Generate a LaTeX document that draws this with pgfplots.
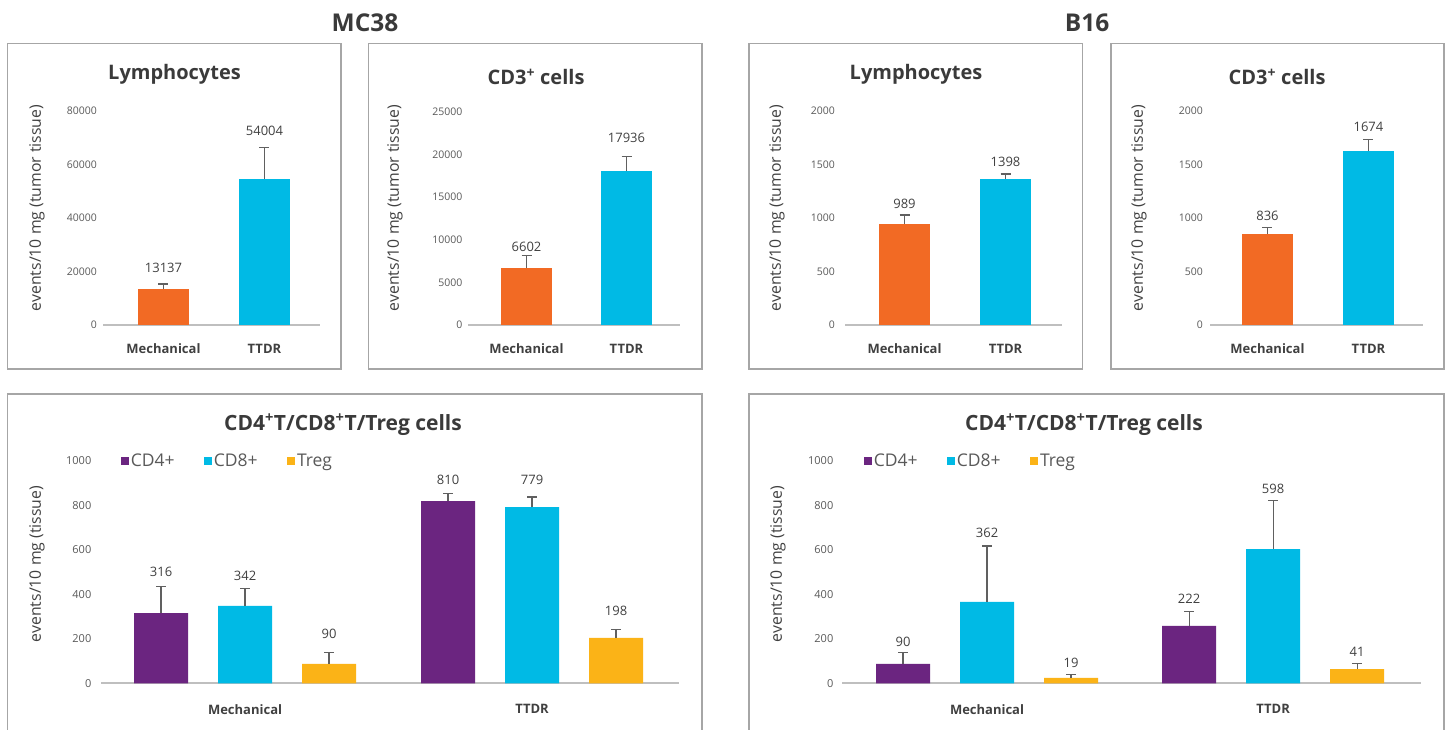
\documentclass[border=0pt]{standalone}
\usepackage{pgfplots}
\pgfplotsset{compat=1.18}
\usepackage{fontspec}
\setmainfont{Open Sans}
\definecolor{orng}{HTML}{F26A24}
\definecolor{cyn}{HTML}{00BAE5}
\definecolor{purp}{HTML}{6B2580}
\definecolor{yel}{HTML}{FBB317}
\definecolor{errgray}{HTML}{606060}
\definecolor{axisgray}{HTML}{BFBFBF}
\definecolor{boxgray}{HTML}{A6A6A6}
\definecolor{tickgray}{HTML}{595959}
\definecolor{labgray}{HTML}{404040}
\definecolor{titlegray}{HTML}{3A3A3A}
\newcommand\fs[1]{\fontsize{#1}{#1}\selectfont}
\pgfplotsset{
  base/.style={
    scale only axis, anchor=south west, clip=false,
    axis x line*=bottom, axis y line*=left,
    y axis line style={draw=none},
    x axis line style={draw=axisgray, line width=1.6pt},
    major tick length=0pt, tick style={draw=none},
    ymin=0, xtick={0,1}, xticklabels={Mechanical,TTDR},
    scaled y ticks=false,
    /pgf/number format/1000 sep={},
    /pgf/number format/assume math mode=true,
    yticklabel style={font=\fs{10.5}, text=tickgray, anchor=east, inner sep=0pt},
    xticklabel style={font=\fs{13}\bfseries, text=labgray, anchor=center, inner sep=0pt},
  },
  bars/.style={ybar, bar width=#1, bar shift=0pt, draw=none,
    error bars/y dir=plus, error bars/y explicit,
    error bars/error bar style={line width=1.2pt, draw=errgray},
    error bars/error mark options={rotate=90, mark size=5pt, line width=1.2pt, draw=errgray}},
  labs/.style={draw=none, mark=none, forget plot, nodes near coords, point meta=explicit symbolic,
    every node near coord/.append style={font=\fs{13}, text=labgray, anchor=center, inner sep=0pt}},
  botleg/.style={legend columns=3,
    legend style={at={(#1,1)}, anchor=west, draw=none, fill=none, inner sep=0pt,
      font=\fs{17.5},
      nodes={inner xsep=2pt, inner ysep=0pt, text=tickgray},
      /tikz/every even column/.append style={column sep=27pt}},
    legend image code/.code={\fill[##1] (0pt,-4.2pt) rectangle (8.3pt,4.2pt);}},
}
\begin{document}
\begin{tikzpicture}[x=1pt,y=1pt]
\useasboundingbox (0,0) rectangle (1447,730);
% boxes
\draw[boxgray, line width=1.4pt] (7.5,361) rectangle (341,686.5);
\draw[boxgray, line width=1.4pt] (368.5,361) rectangle (702,686.5);
\draw[boxgray, line width=1.4pt] (749,361) rectangle (1082.5,686.5);
\draw[boxgray, line width=1.4pt] (1111,361) rectangle (1444,686.5);
\draw[boxgray, line width=1.4pt] (7.5,-5) -- (7.5,336) -- (702,336) -- (702,-5);
\draw[boxgray, line width=1.4pt] (749,-5) -- (749,336) -- (1444,336) -- (1444,-5);
% big titles
\node[font=\fs{24.5}\bfseries, text=titlegray] at (365,707) {MC38};
\node[font=\fs{24.5}\bfseries, text=titlegray] at (1087,707) {B16};
% panel titles
\node[font=\fs{20}\bfseries, text=titlegray, anchor=base] at (174.5,650) {Lymphocytes};
\node[font=\fs{20}\bfseries, text=titlegray, anchor=base] at (536,645) {CD3\textsuperscript{+} cells};
\node[font=\fs{20}\bfseries, text=titlegray, anchor=base] at (916,650) {Lymphocytes};
\node[font=\fs{20}\bfseries, text=titlegray, anchor=base] at (1277,645) {CD3\textsuperscript{+} cells};
\node[font=\fs{21}\bfseries, text=titlegray, anchor=base] at (343,299.5) {CD4\textsuperscript{+}T/CD8\textsuperscript{+}T/Treg cells};
\node[font=\fs{21}\bfseries, text=titlegray, anchor=base] at (1084,299.5) {CD4\textsuperscript{+}T/CD8\textsuperscript{+}T/Treg cells};
% y labels
\node[rotate=90, font=\fs{15.8}, text=labgray] at (37,522) {events/10 mg (tumor tissue)};
\node[rotate=90, font=\fs{15.8}, text=labgray] at (395,522) {events/10 mg (tumor tissue)};
\node[rotate=90, font=\fs{15.8}, text=labgray] at (777,522) {events/10 mg (tumor tissue)};
\node[rotate=90, font=\fs{15.8}, text=labgray] at (1139,522) {events/10 mg (tumor tissue)};
\node[rotate=90, font=\fs{15.8}, text=labgray] at (37,166) {events/10 mg (tissue)};
\node[rotate=90, font=\fs{15.8}, text=labgray] at (778,166) {events/10 mg (tissue)};

% Panel 1: MC38 Lymphocytes
\begin{axis}[base, at={(103pt,405pt)}, width=217pt, height=214pt, xmin=-0.599, xmax=1.55,
  ymax=80000, ytick={0,20000,...,80000}, yticklabel style={xshift=-6pt}, xticklabel style={yshift=-24pt}]
\addplot[bars=51pt, fill=orng] coordinates {(0,13450) +- (0,1880)};
\addplot[bars=51pt, fill=cyn] coordinates {(1,54580) +- (0,11850)};
\addplot[labs] coordinates {(0,21300) [13137] (1,72500) [54004]};
\end{axis}

% Panel 2: MC38 CD3
\begin{axis}[base, at={(468pt,405pt)}, width=212pt, height=213pt, xmin=-0.585, xmax=1.535,
  ymax=25000, ytick={0,5000,...,25000}, yticklabel style={xshift=-5.5pt}, xticklabel style={yshift=-24pt}]
\addplot[bars=51pt, fill=orng] coordinates {(0,6680) +- (0,1440)};
\addplot[bars=51pt, fill=cyn] coordinates {(1,18050) +- (0,1750)};
\addplot[labs] coordinates {(0,9180) [6602] (1,21940) [17936]};
\end{axis}

% Panel 3: B16 Lymphocytes
\begin{axis}[base, at={(845pt,405pt)}, width=217pt, height=214pt, xmin=-0.589, xmax=1.559,
  ymax=2000, ytick={0,500,...,2000}, yticklabel style={xshift=-10pt}, xticklabel style={yshift=-24pt}]
\addplot[bars=51pt, fill=orng] coordinates {(0,944) +- (0,84)};
\addplot[bars=51pt, fill=cyn] coordinates {(1,1364) +- (0,47)};
\addplot[labs] coordinates {(0,1131) [989] (1,1523) [1398]};
\end{axis}

% Panel 4: B16 CD3
\begin{axis}[base, at={(1210pt,405pt)}, width=213pt, height=214pt, xmin=-0.569, xmax=1.54,
  ymax=2000, ytick={0,500,...,2000}, yticklabel style={xshift=-7pt}, xticklabel style={yshift=-24pt}]
\addplot[bars=51pt, fill=orng] coordinates {(0,850) +- (0,59)};
\addplot[bars=51pt, fill=cyn] coordinates {(1,1626) +- (0,106)};
\addplot[labs] coordinates {(0,1019) [836] (1,1850) [1674]};
\end{axis}

% Bottom-left: MC38 subsets
\begin{axis}[base, botleg=0.0334, at={(101pt,46.7pt)}, width=578pt, height=222.3pt, xmin=-0.502, xmax=1.512,
  ymax=1000, ytick={0,200,...,1000}, yticklabel style={xshift=-9.5pt, font=\fs{11}}, xticklabel style={yshift=-26pt}]
\addplot[bars=54pt, fill=purp] coordinates {(-0.2926,316) +- (0,120) (0.7074,820) +- (0,35)};
\addlegendentry{CD4+}
\addplot[bars=54pt, fill=cyn] coordinates {(0,348) +- (0,78) (1,793) +- (0,45)};
\addlegendentry{CD8+}
\addplot[bars=54pt, fill=yel] coordinates {(0.2926,87) +- (0,52) (1.2926,204) +- (0,39)};
\addlegendentry{Treg}
\addplot[labs] coordinates {(-0.2926,502) [316] (0,483) [342] (0.2926,222) [90]
  (0.7074,916) [810] (1,916) [779] (1.2926,325) [198]};
\end{axis}

% Bottom-right: B16 subsets
\begin{axis}[base, botleg=0.0368, at={(842pt,46.7pt)}, width=579pt, height=222.3pt, xmin=-0.507, xmax=1.517,
  ymax=1000, ytick={0,200,...,1000}, yticklabel style={xshift=-8.5pt, font=\fs{11}}, xticklabel style={yshift=-26pt}]
\addplot[bars=54pt, fill=purp] coordinates {(-0.2937,87) +- (0,52) (0.7063,258) +- (0,66)};
\addlegendentry{CD4+}
\addplot[bars=54pt, fill=cyn] coordinates {(0,366) +- (0,252) (1,604) +- (0,219)};
\addlegendentry{CD8+}
\addplot[bars=54pt, fill=yel] coordinates {(0.2937,24) +- (0,16) (1.2937,64) +- (0,24)};
\addlegendentry{Treg}
\addplot[labs] coordinates {(-0.2937,187) [90] (0,676) [362] (0.2937,91) [19]
  (0.7063,381) [222] (1,874) [598] (1.2937,142) [41]};
\end{axis}
\end{tikzpicture}
\end{document}
